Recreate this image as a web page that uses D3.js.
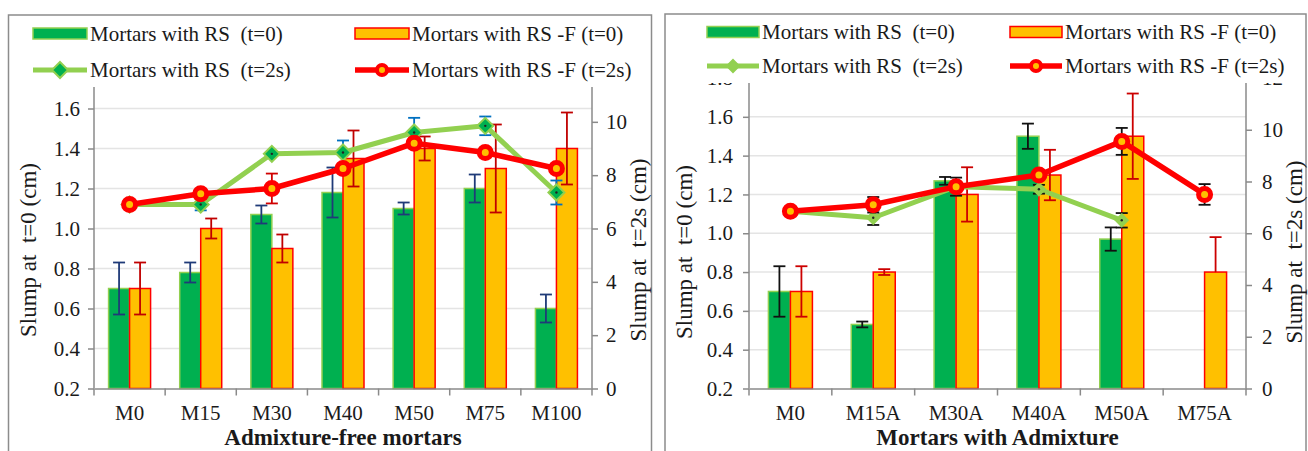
<!DOCTYPE html>
<html>
<head>
<meta charset="utf-8">
<script src="https://cdn.jsdelivr.net/npm/d3@7"></script>
<style>
  body { margin: 0; background: #fff; }
  svg text { font-family: 'Liberation Serif', 'DejaVu Serif', serif; fill: #1a1a1a; white-space: pre; }
</style>
</head>
<body>
<svg id="chart" width="1308" height="451"></svg>
<script>
// ---- tick labels ----
const yTicksLeft = [0.2, 0.4, 0.6, 0.8, 1.0, 1.2, 1.4, 1.6, 1.8];
const yTicksRight = [0, 2, 4, 6, 8, 10, 12];

// ---- legend labels ----
const legendLabels = [
  'Mortars with RS  (t=0)',
  'Mortars with RS -F (t=0)',
  'Mortars with RS  (t=2s)',
  'Mortars with RS -F (t=2s)'
];

// ---- panel 1: admixture-free mortars ----
const catsFree = ['M0', 'M15', 'M30', 'M40', 'M50', 'M75', 'M100'];
const rs0Free = [0.70, 0.78, 1.07, 1.18, 1.10, 1.20, 0.60];
const rs0ErrFree = [0.13, 0.05, 0.045, 0.125, 0.03, 0.07, 0.07];
const rsf0Free = [0.70, 1.00, 0.90, 1.35, 1.40, 1.30, 1.40];
const rsf0ErrFree = [0.13, 0.05, 0.07, 0.14, 0.06, 0.22, 0.18];
const rs2Free = [6.9, 6.9, 8.8, 8.85, 9.6, 9.85, 7.35];
const rs2ErrFree = [0, 0.22, 0, 0.45, 0.55, 0.35, 0.45];
const rsf2Free = [6.9, 7.3, 7.5, 8.25, 9.2, 8.85, 8.25];
const rsf2ErrFree = [0, 0, 0.56, 0, 0, 0, 0];

// ---- panel 2: mortars with admixture ----
const catsAdm = ['M0', 'M15A', 'M30A', 'M40A', 'M50A', 'M75A'];
const rs0Adm = [0.70, 0.53, 1.27, 1.50, 0.97, null];
const rs0ErrAdm = [0.13, 0.015, 0.02, 0.065, 0.06, 0];
const rsf0Adm = [0.70, 0.80, 1.20, 1.30, 1.50, 0.80];
const rsf0ErrLoAdm = [0.13, 0.015, 0.14, 0.13, 0.22, 0];
const rsf0ErrHiAdm = [0.13, 0.015, 0.14, 0.13, 0.22, 0.18];
const rs2Adm = [6.85, 6.6, 7.8, 7.7, 6.5, null];
const rs2ErrAdm = [0, 0.28, 0, 0.17, 0.28, 0];
const rsf2Adm = [6.85, 7.1, 7.8, 8.25, 9.55, 7.5];
const rsf2ErrAdm = [0, 0.3, 0.35, 0, 0.52, 0.4];

const GREEN = '#00B050', LIGHT_GREEN = '#92D050', ORANGE = '#FFC000', RED = '#FF0000';
const AXIS = '#8a8a8a', GRID = '#e4e4e4';
const FONT = "'Liberation Serif', 'DejaVu Serif', serif";

const svg = d3.select('#chart');

/**
 * Draw one chart panel
 */
function drawPanel(p) {
  const g = svg.append('g');

  const x = d3.scaleBand().domain(p.cats).range([p.left, p.right]);
  const yL = d3.scaleLinear().domain([0.2, 1.8]).range([p.bottom, p.top]);
  const yR = d3.scaleLinear().domain([0, 12]).range([p.bottom, p.top]);
  const bw = x.bandwidth();
  const cx = c => x(c) + bw / 2;

  // gridlines
  g.append('g').selectAll('line')
    .data(yTicksLeft.slice(1))
    .join('line')
    .attr('x1', p.left).attr('x2', p.right)
    .attr('y1', d => yL(d)).attr('y2', d => yL(d))
    .attr('stroke', GRID).attr('stroke-width', 1.5);

  // bars
  const bars = g.append('g');
  bars.selectAll('rect.rs')
    .data(p.cats.map((c, i) => ({ c, v: p.rs0[i] })).filter(d => d.v != null))
    .join('rect')
    .attr('x', d => cx(d.c) - p.barW)
    .attr('y', d => yL(d.v))
    .attr('width', p.barW)
    .attr('height', d => yL(0.2) - yL(d.v))
    .attr('fill', GREEN).attr('stroke', LIGHT_GREEN).attr('stroke-width', 1.5);
  bars.selectAll('rect.rsf')
    .data(p.cats.map((c, i) => ({ c, v: p.rsf0[i] })).filter(d => d.v != null))
    .join('rect')
    .attr('x', d => cx(d.c))
    .attr('y', d => yL(d.v))
    .attr('width', p.barW)
    .attr('height', d => yL(0.2) - yL(d.v))
    .attr('fill', ORANGE).attr('stroke', RED).attr('stroke-width', 1.5);

  errorBars(g, p.cats.map(c => cx(c) - p.barW / 2), p.rs0, p.rs0Err, p.rs0Err, yL, p.errCol.rs0);
  errorBars(g, p.cats.map(c => cx(c) + p.barW / 2), p.rsf0, p.rsf0ErrLo, p.rsf0ErrHi, yL, p.errCol.rsf0);

  // axes (labels hidden by the legend box are left out)
  const shown = (s) => v => s(v) > p.legendBottom - 10;
  const axL = g.append('g')
    .attr('transform', `translate(${p.left},0)`)
    .call(d3.axisLeft(yL).tickValues(yTicksLeft.filter(shown(yL))).tickFormat(d3.format('.1f'))
      .tickSize(6).tickSizeOuter(0).tickPadding(p.tickPad));
  const axR = g.append('g')
    .attr('transform', `translate(${p.right},0)`)
    .call(d3.axisRight(yR).tickValues(yTicksRight.filter(shown(yR)))
      .tickSize(6).tickSizeOuter(0).tickPadding(p.tickPad));
  const axB = g.append('g')
    .attr('transform', `translate(0,${p.bottom})`)
    .call(d3.axisBottom(x).tickSize(0).tickPadding(17));
  [axL, axR, axB].forEach(a => {
    a.attr('font-family', FONT).attr('font-size', 21);
    a.selectAll('path, line').attr('stroke', AXIS).attr('stroke-width', 1.5);
    a.selectAll('text').attr('fill', '#1a1a1a');
  });
  // keep axis lines from poking above the legend
  axL.select('path').attr('d', `M0,${p.bottom}V${p.top}`);
  axR.select('path').attr('d', `M0,${p.bottom}V${p.top}`);
  // category boundary ticks
  axB.selectAll('line.bound')
    .data(p.cats.map(c => x(c)).concat([p.right]))
    .join('line')
    .attr('class', 'bound')
    .attr('x1', d => d).attr('x2', d => d)
    .attr('y1', 0).attr('y2', 7)
    .attr('stroke', AXIS).attr('stroke-width', 1.5);

  // lines (t=2s) on right axis
  const line = d3.line()
    .defined(d => d.v != null)
    .x(d => cx(d.c))
    .y(d => yR(d.v));

  const rs2 = p.cats.map((c, i) => ({ c, v: p.rs2[i] }));
  g.append('path').datum(rs2).attr('d', line)
    .attr('fill', 'none').attr('stroke', LIGHT_GREEN).attr('stroke-width', 5).attr('stroke-linejoin', 'round');
  errorBars(g, p.cats.map(cx), p.rs2, p.rs2Err, p.rs2Err, yR, p.errCol.rs2);
  const dia = g.append('g').selectAll('g')
    .data(rs2.filter(d => d.v != null))
    .join('g')
    .attr('transform', d => `translate(${cx(d.c)},${yR(d.v)})`);
  dia.append('path')
    .attr('d', `M0,${-p.diaR}L${p.diaR},0L0,${p.diaR}L${-p.diaR},0Z`)
    .attr('fill', p.diaFill).attr('stroke', LIGHT_GREEN).attr('stroke-width', 2);
  dia.append('circle').attr('r', 1.2).attr('fill', '#222');

  const rsf2 = p.cats.map((c, i) => ({ c, v: p.rsf2[i] }));
  g.append('path').datum(rsf2).attr('d', line)
    .attr('fill', 'none').attr('stroke', RED).attr('stroke-width', 5.5).attr('stroke-linejoin', 'round');
  errorBars(g, p.cats.map(cx), p.rsf2, p.rsf2Err, p.rsf2Err, yR, p.errCol.rsf2);
  g.append('g').selectAll('circle')
    .data(rsf2.filter(d => d.v != null))
    .join('circle')
    .attr('cx', d => cx(d.c)).attr('cy', d => yR(d.v))
    .attr('r', 6)
    .attr('fill', ORANGE).attr('stroke', RED).attr('stroke-width', 5);

  // legend (white box laid over the top of the plot)
  g.append('rect')
    .attr('x', p.frame.x + 1).attr('y', p.frame.y + 1)
    .attr('width', p.frame.w - 2).attr('height', p.legendBottom - p.frame.y - 1)
    .attr('fill', '#fff');
  const lg = g.append('g');
  const [c1, c2] = p.legendCols;
  const [r1, r2] = p.legendRows;
  // bar swatches
  lg.append('rect').attr('x', c1).attr('y', r1 - 5.5).attr('width', p.swatchW).attr('height', 11)
    .attr('fill', GREEN).attr('stroke', LIGHT_GREEN).attr('stroke-width', 1.5);
  lg.append('rect').attr('x', c2).attr('y', r1 - 5.5).attr('width', p.swatchW).attr('height', 11)
    .attr('fill', ORANGE).attr('stroke', RED).attr('stroke-width', 1.5);
  // line swatches
  lg.append('line').attr('x1', c1).attr('x2', c1 + p.swatchW).attr('y1', r2).attr('y2', r2)
    .attr('stroke', LIGHT_GREEN).attr('stroke-width', 5);
  lg.append('path')
    .attr('d', `M${c1 + p.swatchW / 2},${r2 - p.diaR}l${p.diaR},${p.diaR}l${-p.diaR},${p.diaR}l${-p.diaR},${-p.diaR}Z`)
    .attr('fill', p.diaFill).attr('stroke', LIGHT_GREEN).attr('stroke-width', 2);
  lg.append('line').attr('x1', c2).attr('x2', c2 + p.swatchW).attr('y1', r2).attr('y2', r2)
    .attr('stroke', RED).attr('stroke-width', 5.5);
  lg.append('circle').attr('cx', c2 + p.swatchW / 2).attr('cy', r2).attr('r', 5)
    .attr('fill', ORANGE).attr('stroke', RED).attr('stroke-width', 4);
  const pos = [[c1, r1], [c2, r1], [c1, r2], [c2, r2]];
  lg.selectAll('text')
    .data(legendLabels)
    .join('text')
    .attr('x', (d, i) => pos[i][0] + p.swatchW + 3)
    .attr('y', (d, i) => pos[i][1] + 7)
    .attr('font-family', FONT)
    .attr('font-size', 21)
    .text(d => d);

  // frame
  g.append('rect')
    .attr('x', p.frame.x).attr('y', p.frame.y)
    .attr('width', p.frame.w).attr('height', p.frame.h)
    .attr('fill', 'none').attr('stroke', '#8c8c8c').attr('stroke-width', 1.5);

  // titles
  g.append('text')
    .attr('x', (p.left + p.right) / 2).attr('y', 445)
    .attr('text-anchor', 'middle')
    .attr('font-family', FONT)
    .attr('font-size', 23).attr('font-weight', 'bold')
    .text(p.xTitle);
  g.append('text')
    .attr('transform', `translate(${p.yTitleX[0]},${p.yTitleY}) rotate(-90)`)
    .attr('text-anchor', 'middle')
    .attr('font-family', FONT)
    .attr('font-size', 23)
    .text('Slump at  t=0 (cm)');
  g.append('text')
    .attr('transform', `translate(${p.yTitleX[1]},${p.yTitleY}) rotate(-90)`)
    .attr('text-anchor', 'middle')
    .attr('font-family', FONT)
    .attr('font-size', 23)
    .text('Slump at  t=2s (cm)');
}

/**
 * Vertical error bars with caps
 */
function errorBars(g, xs, vals, lo, hi, scale, color) {
  const data = vals.map((v, i) => ({ x: xs[i], v, lo: lo[i], hi: hi[i] }))
    .filter(d => d.v != null && (d.lo > 0 || d.hi > 0));
  const eg = g.append('g').attr('stroke', color).attr('stroke-width', 1.8);
  eg.selectAll('line.v').data(data).join('line')
    .attr('x1', d => d.x).attr('x2', d => d.x)
    .attr('y1', d => scale(d.v - d.lo)).attr('y2', d => scale(d.v + d.hi));
  eg.selectAll('line.top').data(data.filter(d => d.hi > 0)).join('line')
    .attr('x1', d => d.x - 6).attr('x2', d => d.x + 6)
    .attr('y1', d => scale(d.v + d.hi)).attr('y2', d => scale(d.v + d.hi));
  eg.selectAll('line.bot').data(data.filter(d => d.lo > 0)).join('line')
    .attr('x1', d => d.x - 6).attr('x2', d => d.x + 6)
    .attr('y1', d => scale(d.v - d.lo)).attr('y2', d => scale(d.v - d.lo));
}

drawPanel({
  cats: catsFree,
  rs0: rs0Free, rs0Err: rs0ErrFree,
  rsf0: rsf0Free, rsf0ErrLo: rsf0ErrFree, rsf0ErrHi: rsf0ErrFree,
  rs2: rs2Free, rs2Err: rs2ErrFree,
  rsf2: rsf2Free, rsf2Err: rsf2ErrFree,
  errCol: { rs0: '#1F3A78', rsf0: '#C00000', rs2: '#0070C0', rsf2: '#D00000' },
  left: 94, right: 592, top: 68.5, bottom: 388.5,
  barW: 21, tickPad: 8,
  diaR: 8, diaFill: GREEN,
  frame: { x: 8.5, y: 15, w: 643, h: 450 },
  legendBottom: 87,
  legendCols: [33, 355], legendRows: [33.5, 70], swatchW: 54,
  xTitle: 'Admixture-free mortars',
  yTitleX: [36, 646], yTitleY: 250
});

drawPanel({
  cats: catsAdm,
  rs0: rs0Adm, rs0Err: rs0ErrAdm,
  rsf0: rsf0Adm, rsf0ErrLo: rsf0ErrLoAdm, rsf0ErrHi: rsf0ErrHiAdm,
  rs2: rs2Adm, rs2Err: rs2ErrAdm,
  rsf2: rsf2Adm, rsf2Err: rsf2ErrAdm,
  errCol: { rs0: '#111', rsf0: '#CC0000', rs2: '#111', rsf2: '#111' },
  left: 749, right: 1246, top: 78, bottom: 388.5,
  barW: 22, tickPad: 10,
  diaR: 6, diaFill: LIGHT_GREEN,
  frame: { x: 665, y: 14, w: 641, h: 450 },
  legendBottom: 83,
  legendCols: [707, 1010], legendRows: [32, 66], swatchW: 52,
  xTitle: 'Mortars with Admixture',
  yTitleX: [692, 1302], yTitleY: 252
});
</script>
</body>
</html>
